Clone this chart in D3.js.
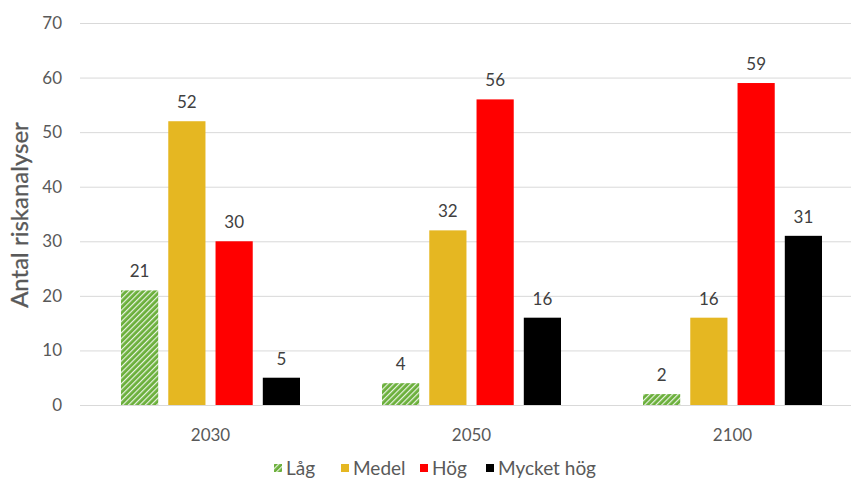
<!DOCTYPE html>
<html><head><meta charset="utf-8">
<script src="https://cdn.jsdelivr.net/npm/d3@7"></script>
<style>body{margin:0;background:#fff;}svg{display:block;font-family:"Lato","Open Sans",sans-serif;}</style>
</head><body>
<svg id="c" width="851" height="481"></svg>
<script>
const categories = ["2030", "2050", "2100"];
const seriesNames = ["Låg", "Medel", "Hög", "Mycket hög"];
const lag = [21, 4, 2];
const medel = [52, 32, 16];
const hog = [30, 56, 59];
const mycketHog = [5, 16, 31];
const yTicks = [0, 10, 20, 30, 40, 50, 60, 70];
const colors = ["url(#hatch)", "#E5B722", "#FF0000", "#000000"];

(function () {
const seriesValues = [lag, medel, hog, mycketHog];
const svg = d3.select("#c");
const defs = svg.append("defs");
const pat = defs.append("pattern").attr("id", "hatch").attr("patternUnits", "userSpaceOnUse")
  .attr("width", 4).attr("height", 4).attr("patternTransform", "rotate(45)");
pat.append("rect").attr("width", 4).attr("height", 4).attr("fill", "#6AAF3A");
pat.append("rect").attr("x", 0).attr("width", 1.2).attr("height", 4).attr("fill", "#ffffff").attr("opacity", 0.85);

const pl = 80, pr = 863, pt = 23, pb = 405;
const y = d3.scaleLinear().domain([0, 70]).range([pb, pt]);
const x0 = d3.scaleBand().domain(categories).range([pl, pr]).padding(0);
const inner = 41;
const x1 = d3.scaleBand().domain(seriesNames).range([inner, x0.bandwidth() - inner]).paddingInner(0.213).paddingOuter(0);

const grid = svg.append("g").attr("class", "grid")
  .attr("transform", `translate(${pl},0)`)
  .call(d3.axisLeft(y).tickValues(yTicks).tickSize(-(pr - pl)).tickFormat(""));
grid.select(".domain").remove();
grid.selectAll("line").attr("stroke", "#d9d9d9").attr("stroke-width", 1);

svg.append("g").selectAll("text").data(yTicks).join("text")
  .attr("x", 62).attr("y", d => y(d)).attr("dy", "0.35em").attr("text-anchor", "end")
  .attr("font-size", 17).attr("fill", "#595959").text(d => d);

const groups = svg.append("g").selectAll("g").data(categories).join("g")
  .attr("transform", d => `translate(${x0(d)},0)`);
groups.each(function(cat, ci) {
  const g = d3.select(this);
  seriesNames.forEach((s, si) => {
    const v = seriesValues[si][ci];
    g.append("rect").attr("x", x1(s)).attr("width", x1.bandwidth())
      .attr("y", y(v)).attr("height", y(0) - y(v)).attr("fill", colors[si]);
    g.append("text").attr("x", x1(s) + x1.bandwidth() / 2).attr("y", y(v) - 13)
      .attr("text-anchor", "middle").attr("font-size", 17).attr("fill", "#404040").text(v);
  });
});

svg.append("line").attr("x1", pl).attr("x2", pr).attr("y1", pb + 0.5).attr("y2", pb + 0.5)
  .attr("stroke", "#d9d9d9");
svg.append("g").selectAll("text").data(categories).join("text")
  .attr("x", d => x0(d) + x0.bandwidth() / 2).attr("y", 441).attr("text-anchor", "middle")
  .attr("font-size", 17).attr("fill", "#595959").text(d => d);

svg.append("text").attr("transform", `translate(28,${(pt + pb) / 2 + 1}) rotate(-90)`)
  .attr("text-anchor", "middle").attr("font-size", 24).attr("fill", "#595959")
  .attr("stroke", "#595959").attr("stroke-width", 0.3)
  .text("Antal riskanalyser");

const legendX = [274, 341, 420, 486];
const leg = svg.append("g").selectAll("g").data(seriesNames).join("g")
  .attr("transform", (d, i) => `translate(${legendX[i]},468)`);
leg.append("rect").attr("x", 0).attr("y", -4).attr("width", 8).attr("height", 8).attr("fill", (d, i) => colors[i]);
leg.append("text").attr("x", 12).attr("y", 0).attr("dy", "0.36em").attr("font-size", 19).attr("fill", "#595959").text(d => d);
})();
</script>
</body></html>
